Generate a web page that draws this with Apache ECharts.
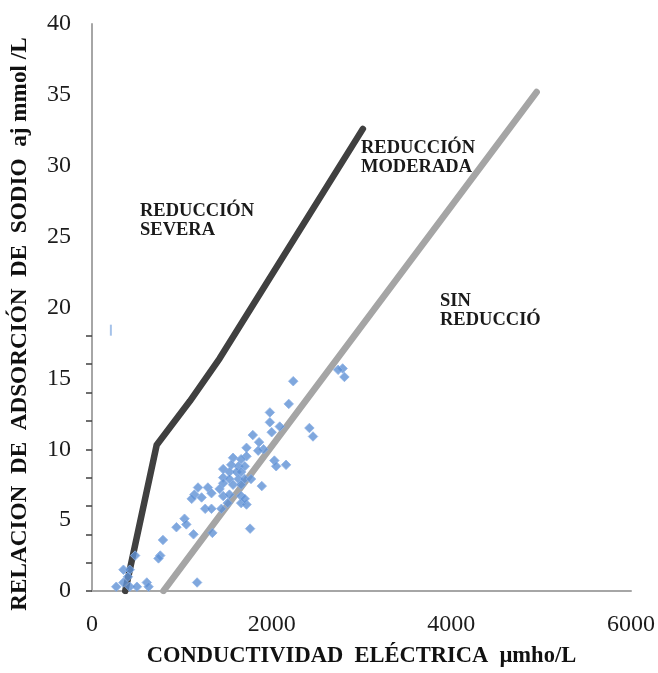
<!DOCTYPE html>
<html>
<head>
<meta charset="utf-8">
<script src="https://cdn.jsdelivr.net/npm/echarts@6/dist/echarts.min.js"></script>
<style>
  html, body { margin: 0; padding: 0; background: #ffffff; }
  #chart { width: 658px; height: 673px; }
</style>
</head>
<body>
<div id="chart"></div>
<script>
// Tick labels
const xTicks = [0, 2000, 4000, 6000];
const yTicks = [0, 5, 10, 15, 20, 25, 30, 35, 40];
const yMinorTicks = [0, 2, 4, 6, 8, 10, 12, 14, 16, 18];

// Water samples: electrical conductivity (µmho/L) and sodium adsorption ratio
const conductividad = [
  2790, 2810, 2740, 2240, 2190, 760, 790, 740, 480, 350, 420, 400, 270, 350, 420, 500, 610, 630, 1170,
  1980, 1980, 2090, 2000, 2420, 2460, 1790, 1860, 1910, 1850, 1720, 1720, 1570, 1660, 1550, 1630, 1700,
  1460, 1530, 1610, 1660, 1460, 1530, 1630, 1700, 1770, 1460, 1570, 1660, 2030, 2050, 2160, 1890,
  1180, 1290, 1330, 1140, 1220, 1110, 1420, 1460, 1530, 1510, 1660, 1660, 1720, 1700,
  1260, 1330, 1440, 1030, 1050, 940, 1340, 1760, 1130
];
const rasAjustada = [
  15.7, 15.1, 15.6, 14.8, 13.2, 2.5, 3.6, 2.3, 2.5, 1.5, 1.5, 1.0, 0.3, 0.6, 0.3, 0.3, 0.6, 0.3, 0.6,
  12.6, 11.9, 11.6, 11.2, 11.5, 10.9, 11.0, 10.5, 10.0, 9.9, 10.1, 9.5, 9.4, 9.3, 8.9, 8.8, 8.8,
  8.6, 8.4, 8.4, 8.4, 8.0, 7.9, 7.9, 7.9, 7.9, 7.6, 7.5, 7.5, 9.2, 8.8, 8.9, 7.4,
  7.3, 7.3, 6.9, 6.8, 6.6, 6.5, 7.2, 6.7, 6.8, 6.2, 6.7, 6.2, 6.1, 6.5,
  5.8, 5.8, 5.8, 5.1, 4.7, 4.5, 4.1, 4.4, 4.0
];

// Isolated reading near the vertical axis
const aisladoEC = [210];
const aisladoRAS = [18.4];

// Boundary: severe reduction / moderate reduction
const severaEC = [370, 720, 1090, 1420, 3015];
const severaRAS = [0, 10.3, 13.4, 16.4, 32.6];

// Boundary: moderate reduction / no reduction
const sinEC = [795, 4950];
const sinRAS = [0, 35.2];

const zip = (a, b) => a.map((v, i) => [v, b[i]]);
const serif = "'Liberation Serif', 'Times New Roman', serif";

const chart = echarts.init(document.getElementById('chart'), null, { renderer: 'canvas' });

chart.setOption({
  animation: false,
  backgroundColor: '#ffffff',
  grid: { left: 92, right: 26, top: 24, bottom: 79, containLabel: false },
  xAxis: {
    type: 'value',
    min: 0, max: 6000, interval: 2000,
    name: 'CONDUCTIVIDAD  ELÉCTRICA  µmho/L',
    nameLocation: 'middle',
    nameGap: 54,
    nameTextStyle: { fontFamily: serif, fontWeight: 'bold', fontSize: 22.5, color: '#111111' },
    axisLine: { show: true, lineStyle: { color: '#a6a6a6', width: 2 } },
    axisTick: { show: false },
    splitLine: { show: false },
    axisLabel: {
      customValues: xTicks,
      formatter: (v) => String(v),
      fontFamily: serif, fontSize: 24, color: '#1c1c1c', margin: 22
    }
  },
  yAxis: {
    type: 'value',
    min: 0, max: 40, interval: 5,
    axisLine: { show: true, lineStyle: { color: '#a6a6a6', width: 2 } },
    axisTick: { show: true, customValues: yMinorTicks, length: 6, lineStyle: { color: '#404040', width: 1.5 } },
    splitLine: { show: false },
    axisLabel: {
      customValues: yTicks,
      formatter: (v) => String(v),
      fontFamily: serif, fontSize: 24, color: '#1c1c1c', margin: 21
    }
  },
  series: [
    {
      name: 'Reducción severa',
      type: 'line',
      data: zip(severaEC, severaRAS),
      showSymbol: false,
      symbol: 'none',
      z: 2,
      lineStyle: { color: '#404040', width: 6.5, cap: 'round', join: 'round' }
    },
    {
      name: 'Sin reducción',
      type: 'line',
      data: zip(sinEC, sinRAS),
      showSymbol: false,
      symbol: 'none',
      z: 2,
      lineStyle: { color: '#a5a5a5', width: 6.5, cap: 'round', join: 'round' }
    },
    {
      name: 'Muestras',
      type: 'scatter',
      data: zip(conductividad, rasAjustada),
      symbol: 'diamond',
      symbolSize: 9.5,
      z: 3,
      itemStyle: { color: '#5f91d5', borderColor: '#8db2e6', borderWidth: 1 }
    },
    {
      name: 'Lectura aislada',
      type: 'scatter',
      data: zip(aisladoEC, aisladoRAS),
      symbol: 'rect',
      symbolSize: [2, 11],
      z: 3,
      itemStyle: { color: '#8fb3e4' }
    }
  ],
  graphic: [
    // Vertical axis title, reading bottom to top
    {
      type: 'text', x: 20, y: 324, rotation: Math.PI / 2,
      style: {
        text: 'RELACION  DE  ADSORCIÓN  DE  SODIO  aj mmol /L',
        fontFamily: serif, fontWeight: 'bold', fontSize: 23.2, fill: '#111111',
        align: 'center', verticalAlign: 'middle'
      }
    },
    {
      type: 'text', left: 140, top: 202,
      style: { text: 'REDUCCIÓN\nSEVERA', fontFamily: serif, fontWeight: 'bold', fontSize: 18.5, lineHeight: 18.5, fill: '#1a1a1a' }
    },
    {
      type: 'text', left: 361, top: 139,
      style: { text: 'REDUCCIÓN\nMODERADA', fontFamily: serif, fontWeight: 'bold', fontSize: 18.5, lineHeight: 18.5, fill: '#1a1a1a' }
    },
    {
      type: 'text', left: 440, top: 292,
      style: { text: 'SIN\nREDUCCIÓ', fontFamily: serif, fontWeight: 'bold', fontSize: 18.5, lineHeight: 18.5, fill: '#1a1a1a' }
    }
  ]
});
</script>
</body>
</html>
